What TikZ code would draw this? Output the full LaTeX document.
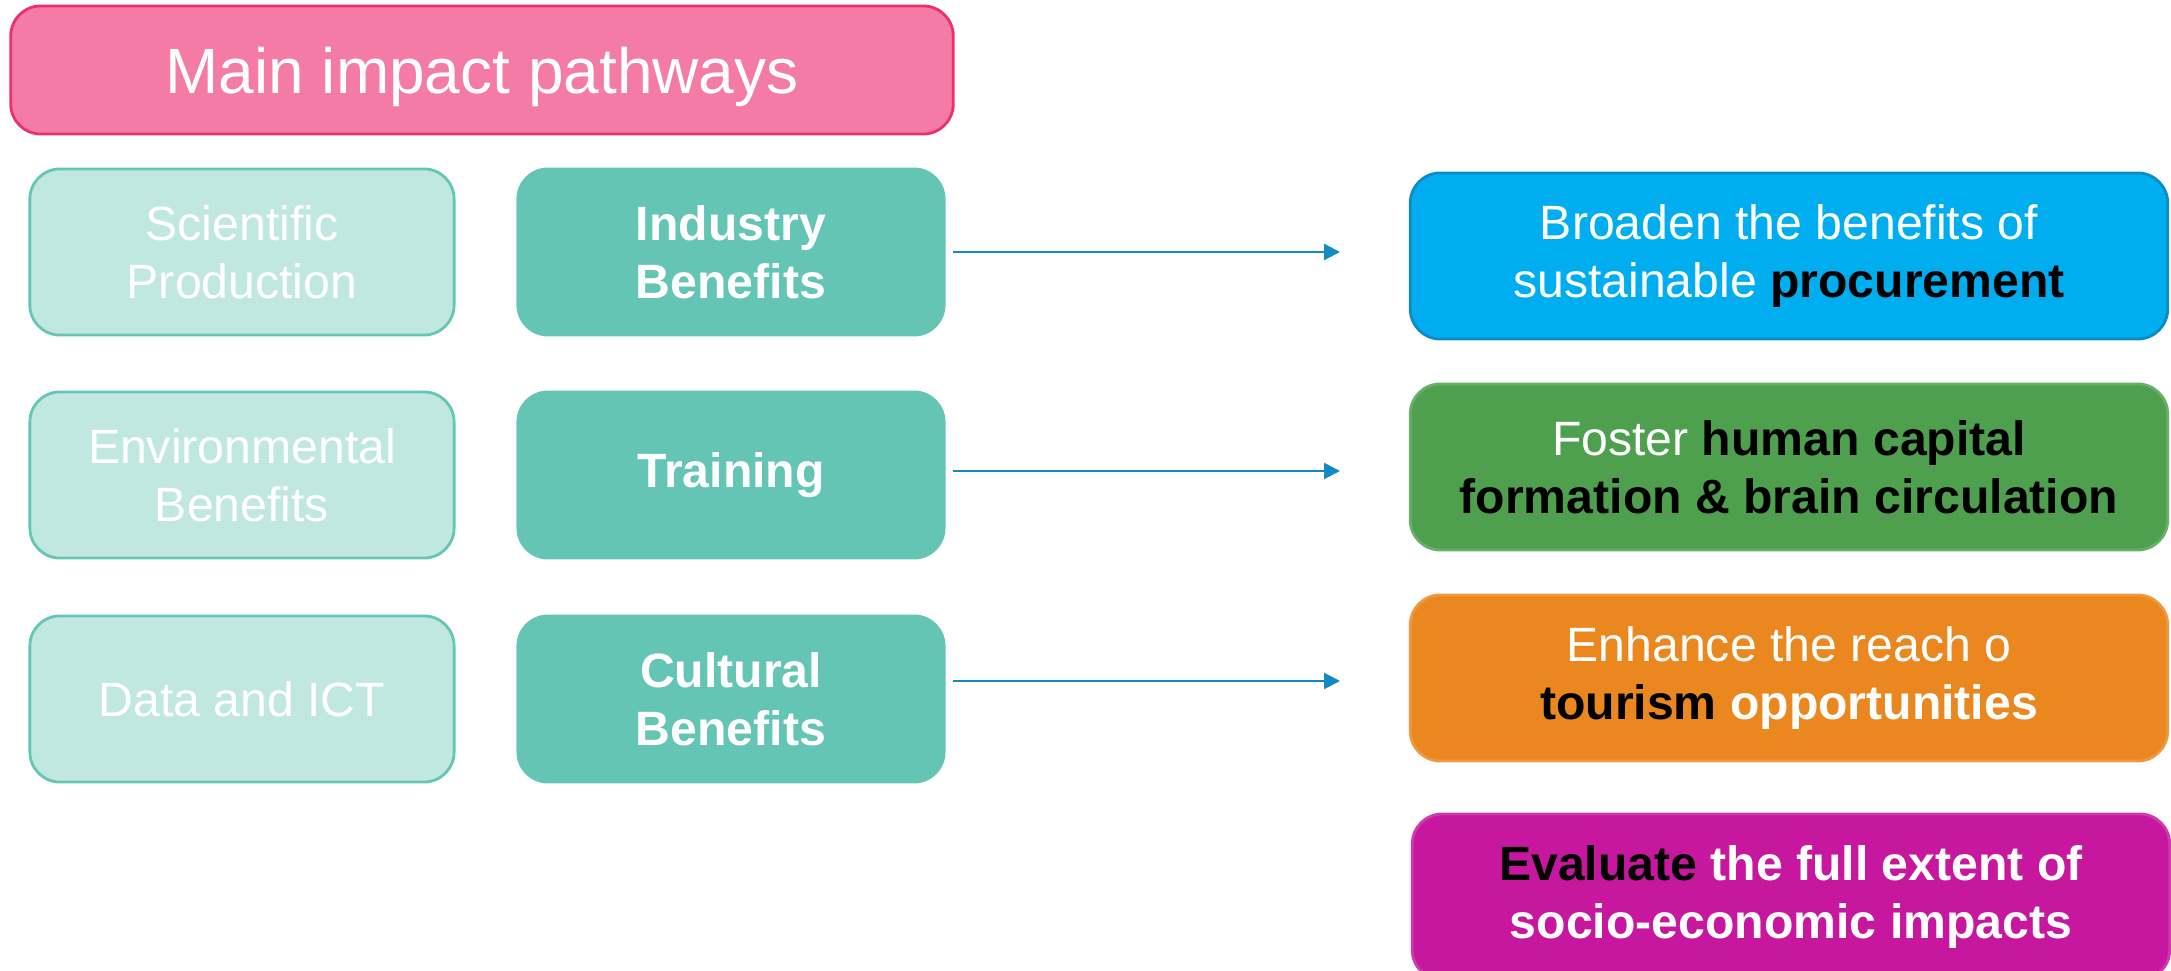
\documentclass[tikz,border=0pt]{standalone}
\usepackage{fontspec}
\setmainfont{Liberation Sans}
\usetikzlibrary{arrows.meta}
\definecolor{titlefill}{HTML}{F47BA6}
\definecolor{titleline}{HTML}{EC2F6F}
\definecolor{teallight}{HTML}{C1E8E0}
\definecolor{tealline}{HTML}{66C6B5}
\definecolor{tealdark}{HTML}{64C5B5}
\definecolor{linkblue}{HTML}{1489C4}
\definecolor{goalblue}{HTML}{00AEEF}
\definecolor{goalblueline}{HTML}{0C8CC4}
\definecolor{goalgreen}{HTML}{4EA04E}
\definecolor{goalorange}{HTML}{EA871F}
\definecolor{goalmagenta}{HTML}{C7179F}

\begin{document}
\begin{tikzpicture}[x=0.01cm,y=-0.01cm]
% sizes of the boxes
\def\bh{1.66cm}
\def\fs{\fontsize{13.7}{16.6}\selectfont}
% node style definition
\tikzstyle{box} = [rectangle, rounded corners=0.3cm, minimum height=\bh,
	align=center, text=white, inner sep=0pt, line width=0.8pt, font=\fs];
\tikzstyle{titlebox} = [box, draw=titleline, fill=titlefill,
	minimum width=9.42cm, minimum height=1.28cm, text depth=0pt,
	font=\fontsize{18.2}{21}\selectfont];
\tikzstyle{dimbox} = [box, draw=tealline, fill=teallight, minimum width=4.24cm];
\tikzstyle{keybox} = [box, draw=tealdark, fill=tealdark, minimum width=4.26cm,
	font=\fs\bfseries];
\tikzstyle{goalbox} = [box, minimum width=7.57cm];
\tikzstyle{link} = [draw=linkblue, line width=0.7pt,
	-{Triangle[length=4.5pt,width=4.5pt]}];
\useasboundingbox (0,0) rectangle (2171,971);
\clip (0,0) rectangle (2171,971);

% title
\node[titlebox] (title) at (482,70) {Main impact pathways};

% pathways, left column
\node[dimbox] (sci) at (242,252) {Scientific\\Production};
\node[dimbox] (env) at (242,475) {Environmental\\Benefits};
\node[dimbox] (data) at (242,699) {Data and ICT};

% pathways, middle column
\node[keybox] (ind) at (731,252) {Industry\\Benefits};
\node[keybox] (train) at (731,475) {Training};
\node[keybox] (cult) at (731,699) {Cultural\\Benefits};

% goals, right column
\node[goalbox, draw=goalblueline, fill=goalblue] (proc) at (1789,256)
	{Broaden the benefits of\\sustainable \textbf{\color{black}procurement}};
\node[goalbox, draw=goalgreen!85!white, fill=goalgreen] (human) at (1789,467)
	{Foster \textbf{\color{black}human capital}\\
	\textbf{\color{black}formation \& brain circulation}};
\node[goalbox, draw=goalorange!85!white, fill=goalorange] (tour) at (1789,678)
	{Enhance the reach o\\\textbf{\color{black}tourism} \textbf{opportunities}};
\node[goalbox, draw=goalmagenta!85!white, fill=goalmagenta] (eval) at (1791,897)
	{\textbf{\color{black}Evaluate} \textbf{the full extent of}\\
	\textbf{socio-economic impacts}};

% arrows
\coordinate (s1) at (953,252);
\coordinate (e1) at (1340,252);
\coordinate (s2) at (953,471);
\coordinate (e2) at (1340,471);
\coordinate (s3) at (953,681);
\coordinate (e3) at (1340,681);
\draw[link] (s1) -- (e1);
\draw[link] (s2) -- (e2);
\draw[link] (s3) -- (e3);

\end{tikzpicture}
\end{document}
